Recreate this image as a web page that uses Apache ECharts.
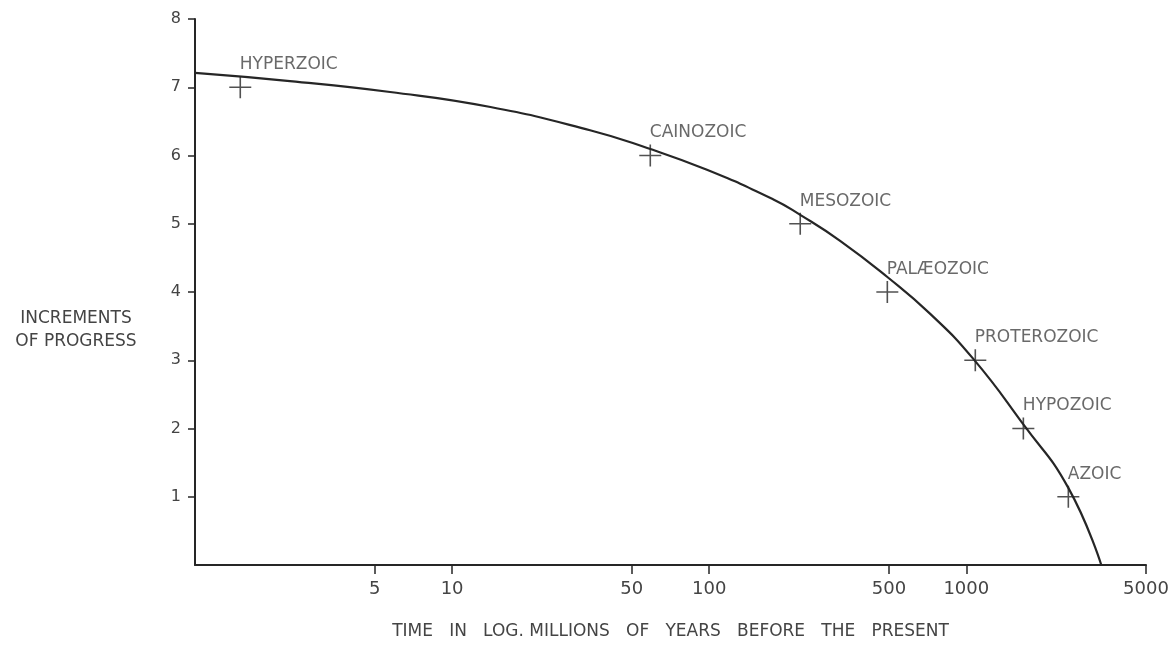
<!DOCTYPE html>
<html>
<head>
<meta charset="utf-8">
<script src="https://cdn.jsdelivr.net/npm/echarts@6/dist/echarts.min.js"></script>
<style>
html,body{margin:0;padding:0;background:#fff;}
#chart{width:1173px;height:669px;}
</style>
</head>
<body>
<div id="chart"></div>
<script>
// Curve: time in millions of years vs increments of progress
const curveX = [1, 2.34, 5.74, 14.1, 34.4, 57.4, 98, 177, 226, 323, 493, 724, 1065, 1667, 2494, 3350];
const curveY = [7.21, 7.09, 6.93, 6.71, 6.37, 6.11, 5.79, 5.36, 5.13, 4.75, 4.22, 3.68, 3.02, 2.06, 1.13, 0];

// Eras marked with crosses
const eraNames = ['HYPERZOIC', 'CAINOZOIC', 'MESOZOIC', 'PALÆOZOIC', 'PROTEROZOIC', 'HYPOZOIC', 'AZOIC'];
const eraX = [1.5, 59, 226, 493, 1084, 1667, 2494];
const eraY = [7, 6, 5, 4, 3, 2, 1];

// Tick labels
const xTicks = [5, 10, 50, 100, 500, 1000, 5000];
const yTicks = [1, 2, 3, 4, 5, 6, 7, 8];

const FONT = 'DejaVu Sans';
const INK = '#262626';
const TEXT = '#444444';

const chart = echarts.init(document.getElementById('chart'));
chart.setOption({
  backgroundColor: '#ffffff',
  animation: false,
  grid: {left: 195, right: 27, top: 19, bottom: 104, containLabel: false},
  xAxis: {
    type: 'log', logBase: 10, min: 1, max: 5000,
    name: 'TIME   IN   LOG. MILLIONS   OF   YEARS   BEFORE   THE   PRESENT',
    nameLocation: 'middle', nameGap: 58,
    nameTextStyle: {fontFamily: FONT, fontSize: 17, color: TEXT},
    axisLine: {show: true, lineStyle: {color: INK, width: 2}},
    axisTick: {show: true, inside: false, length: 9, customValues: xTicks, lineStyle: {color: INK, width: 1.5}},
    axisLabel: {show: true, customValues: xTicks, margin: 15, fontFamily: FONT, fontSize: 18, color: TEXT,
      formatter: v => String(v)},
    splitLine: {show: false},
    minorTick: {show: false}
  },
  yAxis: {
    type: 'value', min: 0, max: 8, interval: 1,
    axisLine: {show: true, lineStyle: {color: INK, width: 2}},
    axisTick: {show: true, length: 7, customValues: yTicks, lineStyle: {color: INK, width: 1.5}},
    axisLabel: {show: true, customValues: yTicks, margin: 14, fontFamily: FONT, fontSize: 16, color: TEXT},
    splitLine: {show: false}
  },
  graphic: [{
    type: 'text', x: 76, y: 307,
    style: {
      text: 'INCREMENTS\nOF PROGRESS', align: 'center', verticalAlign: 'top',
      fontFamily: FONT, fontSize: 17, lineHeight: 23, fill: TEXT
    }
  }],
  series: [
    {
      type: 'line', name: 'curve',
      data: curveX.map((x, i) => [x, curveY[i]]),
      smooth: 0.5, showSymbol: false, symbol: 'none',
      lineStyle: {color: INK, width: 2.2},
      silent: true, z: 2
    },
    {
      type: 'scatter', name: 'eras',
      data: eraX.map((x, i) => ({value: [x, eraY[i]], name: eraNames[i]})),
      symbol: 'path://M0,10 L20,10 M10,0 L10,20',
      symbolSize: 22,
      itemStyle: {color: 'none', borderColor: INK, borderWidth: 1.6},
      label: {
        show: true, formatter: p => p.name,
        position: [13, -9], align: 'left', verticalAlign: 'middle',
        fontFamily: FONT, fontSize: 17, color: TEXT
      },
      z: 3
    }
  ]
});
</script>
</body>
</html>
